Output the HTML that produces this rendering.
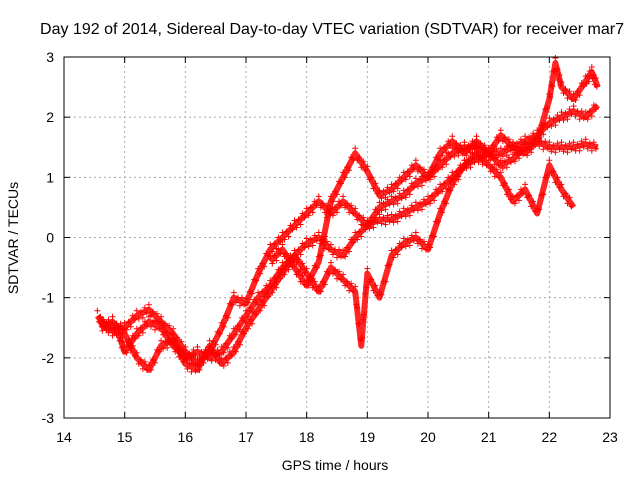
<!DOCTYPE html>
<html><head><meta charset="utf-8"><style>
body{margin:0;background:#fff;}
svg{font-family:"Liberation Sans",sans-serif;font-size:14px;}
</style></head><body>
<svg id="chart" width="640" height="480">
<rect width="640" height="480" fill="#fff"/>
<g id="grid"></g><g id="marks"></g><g id="axes"></g>
<text x="332" y="34" text-anchor="middle" style="font-size:16px">Day 192 of 2014, Sidereal Day-to-day VTEC variation (SDTVAR) for receiver mar7</text>
<text x="335" y="470" text-anchor="middle">GPS time / hours</text>
<text transform="translate(18,238) rotate(-90)" text-anchor="middle">SDTVAR / TECUs</text>
</svg>
<script>
const xTicks=[14,15,16,17,18,19,20,21,22,23];
const yTicks=[-3,-2,-1,0,1,2,3];
const trackA=[[14.55,-1.3],[14.7,-1.5],[14.9,-1.6],[15.0,-1.9],[15.2,-1.6],[15.4,-1.4],[15.6,-1.5],[15.8,-1.8],[16.0,-2.0],[16.2,-1.9],[16.4,-2.0],[16.6,-1.9],[16.8,-1.6],[17.0,-1.3],[17.2,-1.0],[17.4,-0.8],[17.6,-0.5],[17.8,-0.3],[18.0,-0.1],[18.2,0.0],[18.4,-0.2],[18.6,-0.3],[18.8,0.0],[19.0,0.2],[19.2,0.3],[19.4,0.3],[19.6,0.4],[19.8,0.5],[20.0,0.6],[20.2,0.8],[20.4,1.0],[20.6,1.2],[20.8,1.3],[21.0,1.4],[21.2,1.4],[21.4,1.5],[21.6,1.6],[21.8,1.7],[22.0,1.9],[22.2,2.0],[22.4,2.1],[22.6,2.0],[22.8,2.2]];
const trackB=[[14.6,-1.4],[14.8,-1.5],[15.0,-1.5],[15.2,-1.3],[15.4,-1.2],[15.6,-1.4],[15.8,-1.6],[16.0,-1.9],[16.2,-2.1],[16.4,-1.9],[16.6,-1.5],[16.8,-1.0],[17.0,-1.1],[17.2,-0.6],[17.4,-0.2],[17.6,0.0],[17.8,0.2],[18.0,0.4],[18.2,0.6],[18.4,0.4],[18.6,0.6],[18.8,0.4],[19.0,0.2],[19.2,0.5],[19.4,0.6],[19.6,0.7],[19.8,0.9],[20.0,1.0],[20.2,1.2],[20.4,1.4],[20.6,1.5],[20.8,1.5],[21.0,1.4],[21.2,1.2],[21.4,1.3],[21.6,1.5],[21.8,1.6],[22.0,2.3],[22.1,2.9],[22.2,2.5],[22.4,2.3],[22.6,2.6],[22.7,2.75],[22.8,2.5]];
const trackC=[[14.6,-1.5],[14.8,-1.4],[15.0,-1.6],[15.2,-2.0],[15.4,-2.2],[15.6,-1.8],[15.8,-1.7],[16.0,-2.1],[16.2,-2.2],[16.4,-1.8],[16.6,-2.1],[16.8,-1.9],[17.0,-1.5],[17.2,-1.2],[17.4,-0.9],[17.6,-0.6],[17.8,-0.3],[18.0,-0.6],[18.2,-0.9],[18.4,-0.5],[18.6,-0.7],[18.8,-0.9],[18.9,-1.8],[19.0,-0.6],[19.2,-1.0],[19.4,-0.3],[19.6,-0.1],[19.8,0.0],[20.0,-0.2],[20.2,0.4],[20.4,0.9],[20.6,1.2],[20.8,1.4],[21.0,1.2],[21.2,1.0],[21.4,0.6],[21.6,0.8],[21.8,0.4],[22.0,1.2],[22.2,0.8],[22.4,0.5]];
const trackD=[[17.4,-0.4],[17.6,-0.2],[17.8,-0.5],[18.0,-0.8],[18.2,-0.4],[18.4,0.6],[18.6,1.0],[18.8,1.4],[19.0,1.1],[19.2,0.7],[19.4,0.8],[19.6,1.0],[19.8,1.2],[20.0,1.0],[20.2,1.4],[20.4,1.6],[20.6,1.4],[20.8,1.6],[21.0,1.4],[21.2,1.7],[21.4,1.5],[21.6,1.4],[21.8,1.6],[22.0,1.5],[22.2,1.5],[22.4,1.5],[22.6,1.55],[22.8,1.5]];
const tracks=[trackA,trackB,trackC,trackD];
const X0=64,X1=610,Y0=418,Y1=57;
function sx(v){return X0+(v-14)/(23-14)*(X1-X0);}
function sy(v){return Y0-(v+3)/6*(Y0-Y1);}
const NS='http://www.w3.org/2000/svg';
function mk(t,a,p){const e=document.createElementNS(NS,t);for(const k in a)e.setAttribute(k,a[k]);p.appendChild(e);return e;}
const grid=document.getElementById('grid'),axes=document.getElementById('axes'),marks=document.getElementById('marks');
xTicks.forEach(t=>{
 if(t>14&&t<23){const g=mk('line',{x1:sx(t),x2:sx(t),y1:Y0,y2:Y1,stroke:'#aaa','stroke-dasharray':'2,3'},grid);
 }
 const l=mk('text',{x:sx(t),y:Y0+24,'text-anchor':'middle'},axes);l.textContent=t;
 
 mk('line',{x1:sx(t),x2:sx(t),y1:Y0,y2:Y0-6,stroke:'#000'},axes);
 mk('line',{x1:sx(t),x2:sx(t),y1:Y1,y2:Y1+6,stroke:'#000'},axes);
});
yTicks.forEach(t=>{
 if(t>-3&&t<3){const g=mk('line',{x1:X0,x2:X1,y1:sy(t),y2:sy(t),stroke:'#aaa','stroke-dasharray':'2,3'},grid);
 }
 const l=mk('text',{x:X0-10,y:sy(t)+5,'text-anchor':'end'},axes);l.textContent=t;
 
 mk('line',{x1:X0,x2:X0+6,y1:sy(t),y2:sy(t),stroke:'#000'},axes);
 mk('line',{x1:X1,x2:X1-6,y1:sy(t),y2:sy(t),stroke:'#000'},axes);
});
const fr=mk('rect',{x:X0,y:Y1,width:X1-X0,height:Y0-Y1,fill:'none',stroke:'#000'},axes);

tracks.forEach((tr,i)=>{
 const pl=mk('polyline',{points:tr.map(p=>sx(p[0])+','+sy(p[1])).join(' '),fill:'none',stroke:'#f00','stroke-width':6,'stroke-linejoin':'round',opacity:0.85},marks);
 
 for(let k=0;k<tr.length-1;k++){
  const a=tr[k],b=tr[k+1];
  for(let s=0;s<6;s++){
   const f=s/6,x=sx(a[0]+(b[0]-a[0])*f),y=sy(a[1]+(b[1]-a[1])*f)+[-5,4,-2,5,-4,2][s];
   const m=mk('path',{d:`M${x-3},${y}h6M${x},${y-3}v6`,stroke:'#f00','stroke-width':1},marks);
   
  }
 }
});
</script>
</body></html>
